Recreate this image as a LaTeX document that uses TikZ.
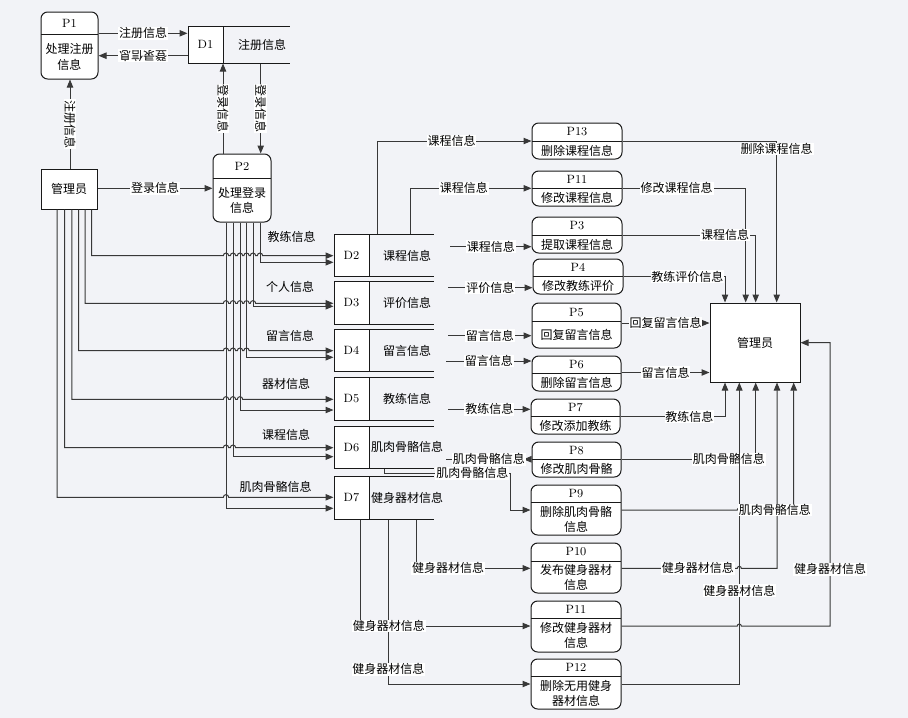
\documentclass[tikz,border=0pt]{standalone}
\usepackage{fontspec}
\newfontfamily\cjk{Noto Sans CJK SC}
\usetikzlibrary{arrows.meta,fit}
\definecolor{bgc}{RGB}{242,243,247}
\tikzset{
 ln/.style={draw=black!78, line width=0.75pt},
 arr/.style={ln, -{Triangle[length=6pt,width=4.8pt]}},
 rarr/.style={ln, -{Triangle[length=6pt,width=4.8pt,reversed]}},
 lbl/.style={fill=white, inner sep=0.6pt, font=\cjk\fontsize{9}{10}\selectfont},
 plain/.style={inner sep=0, font=\cjk\fontsize{9}{10}\selectfont},
 procbox/.style={draw=black!90, fill=white, rounded corners=5pt, line width=0.75pt, inner sep=0},
 box/.style={draw=black!90, fill=white, line width=0.75pt, inner sep=0},
 txt/.style={inner sep=0, align=center, font=\cjk\fontsize{9}{11.5}\selectfont},
 num/.style={inner sep=0, font=\fontsize{9}{10}\selectfont},
}
\newcommand\mkproc[8]{%
 \node[procbox, fit={(#2,#3) (#4,#5)}] (#1) {};
 \draw[ln, draw=black!90] (#2,#6) -- (#4,#6);
 \node[num] (#1t) at ({(#2+#4)/2},{(#3+#6)/2}) {#7};
 \node[txt] (#1b) at ({(#2+#4)/2},{(#6+#5)/2+0.5}) {#8};
}
\newcommand\mkstore[8]{%
 \node[box, fit={(#2,#5) (#3,#6)}] (#1) {};
 \draw[ln, draw=black!90] (#3,#5) -- (#4,#5) (#3,#6) -- (#4,#6);
 \node[num] (#1id) at ({(#2+#3)/2},{(#5+#6)/2}) {#7};
 \node[txt] (#1n) at ({#3+38},{(#5+#6)/2}) {#8};
}
\begin{document}
\begin{tikzpicture}[x=0.75pt,y=-0.75pt]
\fill[bgc] (0,0) rectangle (908,718);
\useasboundingbox (0,0) rectangle (908,718);

% ---------- boxes ----------
\mkproc{P1}{41}{12}{98}{79}{34}{P1}{处理注册\\信息}
\mkproc{P2}{213}{154}{271}{222}{178}{P2}{处理登录\\信息}
\node[box, fit={(41,169) (97,209)}] (ML) {};
\node[txt] (MLt) at (ML.center) {管理员};
\node[box, fit={(710,303) (800,382)}] (MR) {};
\node[txt] (MRt) at (MR.center) {管理员};

\draw[ln, draw=black!90] (223,26) -- (290,26) (223,63) -- (290,63);
\node[box, fit={(188,26) (223,63)}] (D1) {};
\node[num] (D1id) at (205.5,44.5) {D1};
\node[txt] (D1n) at (262,44.5) {注册信息};

\mkstore{D2}{334}{369}{434}{234.3}{276.7}{D2}{课程信息}
\mkstore{D3}{334}{369}{434}{281.7}{324}{D3}{评价信息}
\mkstore{D4}{334}{369}{434}{329.3}{371.7}{D4}{留言信息}
\mkstore{D5}{334}{369}{434}{377.3}{420}{D5}{教练信息}
\mkstore{D6}{334}{369}{434}{426}{468.3}{D6}{肌肉骨骼信息}
\mkstore{D7}{334}{369}{434}{476}{519.3}{D7}{健身器材信息}

\mkproc{P13}{532}{123}{622}{159}{141}{P13}{删除课程信息}
\mkproc{P11a}{532}{171}{622}{206}{188.3}{P11}{修改课程信息}
\mkproc{P3}{532}{217}{622}{253}{235}{P3}{提取课程信息}
\mkproc{P4}{533}{259}{623}{294}{276}{P4}{修改教练评价}
\mkproc{P5}{532}{303}{621}{348}{321.7}{P5}{回复留言信息}
\mkproc{P6}{532}{356}{621}{391}{373.3}{P6}{删除留言信息}
\mkproc{P7}{531}{399}{620}{434}{416.7}{P7}{修改添加教练}
\mkproc{P8}{532}{442}{621}{477}{459.3}{P8}{修改肌肉骨骼}
\mkproc{P9}{531}{485}{621}{535}{502.5}{P9}{删除肌肉骨骼\\信息}
\mkproc{P10}{531}{543}{621}{593}{561}{P10}{发布健身器材\\信息}
\mkproc{P11b}{531}{601}{621}{652}{618.3}{P11}{修改健身器材\\信息}
\mkproc{P12}{531}{659}{621}{709}{676.7}{P12}{删除无用健身\\器材信息}

% ---------- top-left flows ----------
\draw[arr] (P1.east |- 0,33.3) -- node[lbl]{注册信息} (D1.west |- 0,33.3);
\draw[arr] (D1.west |- 0,55.7) -- node[lbl, rotate=180]{登录信息} (P1.east |- 0,55.7);
\draw[arr] (ML.north -| 70,0) -- node[lbl, rotate=-90]{注册信息} (P1.south -| 70,0);
\draw[arr] (ML.east |- 0,188.3) -- node[lbl]{登录信息} (P2.west |- 0,188.3);
\draw[arr] (P2.north -| 223,0) -- node[lbl, rotate=-90]{登录信息} (D1.south -| 223,0);
\draw[arr] (D1.south -| 260.7,0) -- node[lbl, rotate=-90]{登录信息} (P2.north -| 260.7,0);

% ---------- admin -> stores (with hops) ----------
\draw[arr] (ML.south -| 91.7,0) -- (91.7,255.7) foreach \c in {226,233,240,246.5,253,260}{ -- ([xshift=-2pt]\c,255.7) arc[start angle=180,end angle=0,radius=2pt]} -- (D2.west |- 0,255.7);
\draw[arr] (ML.south -| 85,0) -- (85,303.3) foreach \c in {226,233,240,246.5,253}{ -- ([xshift=-2pt]\c,303.3) arc[start angle=180,end angle=0,radius=2pt]} -- (D3.west |- 0,303.3);
\draw[arr] (ML.south -| 78.5,0) -- (78.5,350.7) foreach \c in {226,233,240,246.5}{ -- ([xshift=-2pt]\c,350.7) arc[start angle=180,end angle=0,radius=2pt]} -- (D4.west |- 0,350.7);
\draw[arr] (ML.south -| 71.8,0) -- (71.8,399.3) foreach \c in {226,233,240}{ -- ([xshift=-2pt]\c,399.3) arc[start angle=180,end angle=0,radius=2pt]} -- (D5.west |- 0,399.3);
\draw[arr] (ML.south -| 64.7,0) -- (64.7,447.7) foreach \c in {226,233}{ -- ([xshift=-2pt]\c,447.7) arc[start angle=180,end angle=0,radius=2pt]} -- (D6.west |- 0,447.7);
\draw[arr] (ML.south -| 57,0) -- (57,497.3) foreach \c in {226}{ -- ([xshift=-2pt]\c,497.3) arc[start angle=180,end angle=0,radius=2pt]} -- (D7.west |- 0,497.3);

% ---------- P2 -> stores ----------
\draw[arr] (P2.south -| 260,0) -- (260,262.3) -- (D2.west |- 0,262.3);
\draw[arr] (P2.south -| 253,0) -- (253,306.3) -- (D3.west |- 0,306.3);
\draw[arr] (P2.south -| 246.5,0) -- (246.5,357.3) -- (D4.west |- 0,357.3);
\draw[arr] (P2.south -| 240,0) -- (240,410) -- (D5.west |- 0,410);
\draw[arr] (P2.south -| 233,0) -- (233,456.7) -- (D6.west |- 0,456.7);
\draw[arr] (P2.south -| 226,0) -- (226,508.3) -- (D7.west |- 0,508.3);

\node[plain] (a2) at (291.7,237.3) {教练信息};
\node[plain] (a3) at (290,287.3) {个人信息};
\node[plain] (a4) at (290,336) {留言信息};
\node[plain] (a5) at (286,384) {器材信息};
\node[plain] (a6) at (286,435.3) {课程信息};
\node[plain] (a7) at (275.7,486.7) {肌肉骨骼信息};

% ---------- stores -> processes ----------
\draw[arr] (D2.north -| 377.7,0) -- (377.7,141) -- node[lbl, pos=0.48]{课程信息} (P13.west |- 0,141);
\draw[arr] (D2.north -| 410.7,0) -- (410.7,188.3) -- node[lbl, pos=0.44]{课程信息} (P11a.west |- 0,188.3);
\coordinate (s3) at (450,246.7);
\coordinate (s4) at (448,287.7);
\coordinate (s5) at (448,335.7);
\coordinate (s6) at (446,361);
\coordinate (s7) at (448,409.3);
\coordinate (s8) at (446,459.3);
\draw[arr] (s3) -- node[lbl]{课程信息} (P3.west |- s3);
\draw[arr] (s4) -- node[lbl]{评价信息} (P4.west |- s4);
\draw[arr] (s5) -- node[lbl]{留言信息} (P5.west |- s5);
\draw[arr] (s6) -- node[lbl]{留言信息} (P6.west |- s6);
\draw[arr] (s7) -- node[lbl]{教练信息} (P7.west |- s7);
\draw[rarr] (s8) -- node[lbl]{肌肉骨骼信息} (P8.west |- s8);
\draw[arr] (D6.south -| 384.3,0) -- (384.3,473.3) -- node[lbl, pos=0.7]{肌肉骨骼信息} (510,473.3) -- (510,510) -- (P9.west |- 0,510);

\draw[arr] (D7.south -| 388.3,0) -- node[lbl, pos=0.91]{健身器材信息} (388.3,684) -- (P12.west |- 0,684);
\draw[arr] (D7.south -| 416,0) -- (416,568.3) -- node[lbl, pos=0.28]{健身器材信息} (P10.west |- 0,568.3);
\draw[arr] (D7.south -| 360,0) -- (360,626) -- node[lbl, pos=0.17]{健身器材信息} (P11b.west |- 0,626);

% ---------- processes -> admin (right) ----------
\draw[arr] (P13.east |- 0,141) -- (776.7,141) -- node[lbl, pos=0.05]{删除课程信息} (MR.north -| 776.7,0);
\draw[arr] (P11a.east |- 0,188.3) -- node[lbl, pos=0.44]{修改课程信息} (745.7,188.3) -- (MR.north -| 745.7,0);
\draw[arr] (P3.east |- 0,235) -- node[lbl, pos=0.77]{课程信息} (755.7,235) -- (MR.north -| 755.7,0);
\draw[arr] (P4.east |- 0,276.7) -- node[lbl, pos=0.63]{教练评价信息} (725,276.7) -- (MR.north -| 725,0);
\draw[arr] (P5.east |- 0,323) -- node[lbl]{回复留言信息} (MR.west |- 0,323);
\draw[arr] (P6.east |- 0,372.5) -- node[lbl]{留言信息} (MR.west |- 0,372.5);
\draw[arr] (P7.east |- 0,416.7) -- node[lbl, pos=0.66]{教练信息} (725,416.7) -- (MR.south -| 725,0);
\draw[arr] (P8.east |- 0,459.3) -- node[lbl, pos=0.8]{肌肉骨骼信息} (755.7,459.3) -- (MR.south -| 755.7,0);
\draw[arr] (P12.east |- 0,684) -- (739.3,684) -- node[lbl, pos=0.31]{健身器材信息} (MR.south -| 739.3,0);
\draw[arr] (P10.east |- 0,568.3) -- node[lbl, pos=0.66]{健身器材信息} (737.3,568.3) arc[start angle=180,end angle=0,radius=1.5pt] -- (777,568.3) -- (MR.south -| 777,0);
\draw[arr] (P9.east |- 0,510) -- (737.3,510) arc[start angle=180,end angle=0,radius=1.5pt] -- node[lbl, pos=0.64]{肌肉骨骼信息} (793.7,510) -- (MR.south -| 793.7,0);
\draw[arr] (P11b.east |- 0,626) -- (737.3,626) arc[start angle=180,end angle=0,radius=1.5pt] -- (830,626) -- node[lbl, pos=0.2]{健身器材信息} (830,342.7) -- (MR.east |- 0,342.7);
\end{tikzpicture}
\end{document}
